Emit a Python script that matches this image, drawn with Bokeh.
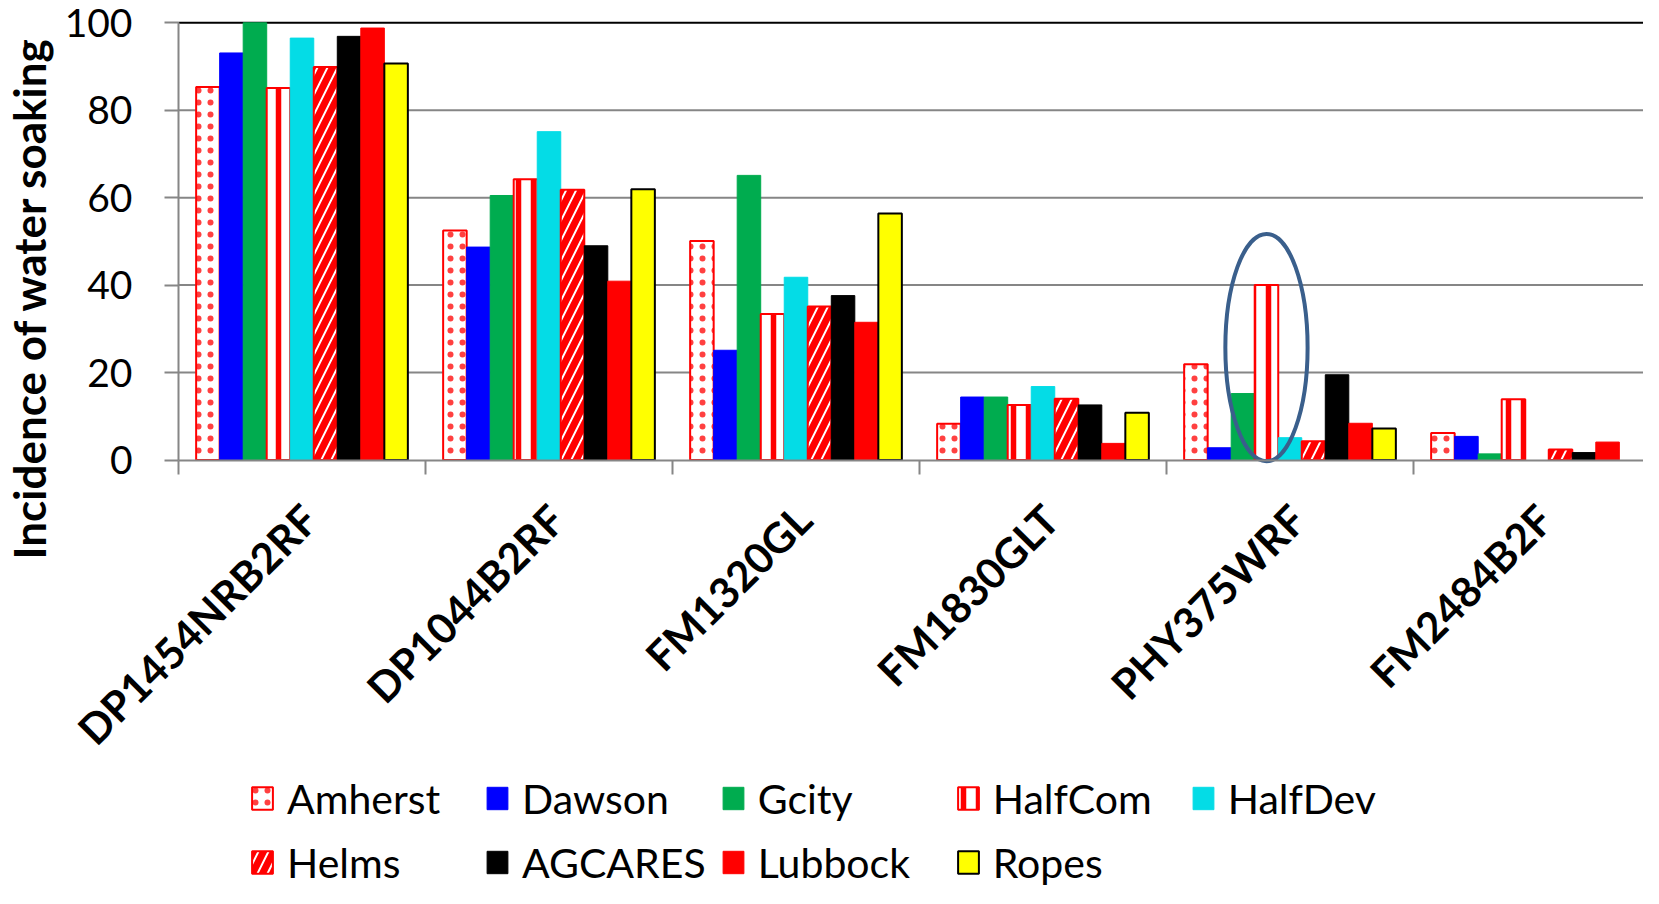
import math
from bokeh.plotting import figure
from bokeh.models import (ColumnDataSource, FixedTicker, Legend, LegendItem, Label, Range1d)
from bokeh.embed import file_html
from bokeh.resources import INLINE

# ---------------- data ----------------
categories = ["DP1454NRB2RF", "DP1044B2RF", "FM1320GL", "FM1830GLT", "PHY375WRF", "FM2484B2F"]
series = ["Amherst", "Dawson", "Gcity", "HalfCom", "HalfDev", "Helms", "AGCARES", "Lubbock", "Ropes"]
amherst = [85.3, 52.5, 50.1, 8.3, 21.9, 6.2]
dawson = [93.1, 48.7, 25.1, 14.4, 2.8, 5.4]
gcity = [100.0, 60.5, 65.1, 14.4, 15.2, 1.4]
halfcom = [85.1, 64.2, 33.4, 12.6, 40.0, 13.9]
halfdev = [96.5, 75.1, 41.8, 16.8, 5.1, 0.0]
helms = [89.9, 61.8, 35.1, 14.0, 4.3, 2.4]
agcares = [96.9, 49.0, 37.6, 12.6, 19.5, 1.7]
lubbock = [98.8, 40.9, 31.5, 3.8, 8.4, 4.1]
ropes = [90.7, 61.9, 56.4, 10.8, 7.2, 0.0]
y_ticks = [0, 20, 40, 60, 80, 100]
highlight = ("PHY375WRF", "HalfCom")

values = [amherst, dawson, gcity, halfcom, halfdev, helms, agcares, lubbock, ropes]

# ---------------- styles ----------------
RED = "#FF0000"
styles = {
    "Amherst": dict(fill_color="white", line_color=RED, line_width=2, hatch_pattern=".",
                    hatch_color=RED, hatch_scale=12, hatch_weight=3, hatch_alpha=0.75),
    "Dawson": dict(fill_color="#0000FF", line_color="#0000FF", line_width=1),
    "Gcity": dict(fill_color="#00AC4F", line_color="#00AC4F", line_width=1),
    "HalfCom": dict(fill_color="white", line_color=RED, line_width=2, hatch_pattern="|",
                    hatch_color=RED, hatch_scale=15, hatch_weight=5.5),
    "HalfDev": dict(fill_color="#04DCE6", line_color="#04DCE6", line_width=1),
    "Helms": dict(fill_color="white", line_color=RED, line_width=2, hatch_pattern="/",
                  hatch_color=RED, hatch_scale=20, hatch_weight=7),
    "AGCARES": dict(fill_color="#000000", line_color="#000000", line_width=1),
    "Lubbock": dict(fill_color=RED, line_color=RED, line_width=1),
    "Ropes": dict(fill_color="#FFFF00", line_color="#000000", line_width=2),
}

FONT = "Lato"
GRID = "#868686"
n_cat = len(categories)
n_series = len(series)
bar_w = 1.0 / 10.5

# layout (pixels): the frame covers the whole canvas
W, H = 1643, 888
AX_X = 178.0      # pixel of x = 0 (value axis)
CAT_W = 247.0     # pixels per category
Y0 = 459.5        # pixel of y = 0 (category axis)
PXY = 4.372       # pixels per unit

p = figure(width=W, height=H, title=None,
           x_range=Range1d(-AX_X / CAT_W, (W - AX_X) / CAT_W),
           y_range=Range1d(-(H - Y0) / PXY, Y0 / PXY),
           output_backend="svg", toolbar_location=None,
           min_border=0, min_border_left=0, min_border_right=0,
           min_border_top=0, min_border_bottom=0)
p.outline_line_color = None
p.background_fill_color = "white"
p.border_fill_color = "white"
p.xgrid.visible = False
p.ygrid.visible = False

# grid lines (gray) and top/right plot-area border (black)
inner = [t for t in y_ticks if 0 < t < y_ticks[-1]]
p.segment(x0=[0] * len(inner), x1=[n_cat] * len(inner), y0=inner, y1=inner,
          line_color=GRID, line_width=2)
p.segment(x0=[0, n_cat], x1=[n_cat, n_cat], y0=[y_ticks[-1], 0], y1=[y_ticks[-1], y_ticks[-1]],
          line_color="black", line_width=2)

items = []
for si, name in enumerate(series):
    xs, tops = [], []
    for ci, v in enumerate(values[si]):
        if v > 0:
            xs.append(ci + 0.5 + (si - (n_series - 1) / 2) * bar_w)
            tops.append(v)
    src = ColumnDataSource(dict(x=xs, top=tops))
    r = p.vbar(x="x", top="top", bottom=0, width=bar_w, source=src, **styles[name])
    items.append(LegendItem(label=name, renderers=[r]))

# highlight ellipse around the chosen bar
ci_h = categories.index(highlight[0])
si_h = series.index(highlight[1])
v_h = values[si_h][ci_h]
p.ellipse(x=[ci_h + 0.5 + (si_h - (n_series - 1) / 2) * bar_w], y=[v_h * 0.643],
          width=[0.333], height=[v_h * 1.30], fill_alpha=0,
          line_color="#3A5F8C", line_width=4)

# y axis (drawn at x = 0 inside the frame)
yax = p.yaxis[0]
yax.fixed_location = 0
yax.bounds = (y_ticks[0], y_ticks[-1])
yax.ticker = FixedTicker(ticks=y_ticks)
yax.major_tick_out = 14
yax.major_tick_in = 0
yax.minor_tick_out = 0
yax.minor_tick_in = 0
yax.axis_line_color = GRID
yax.axis_line_width = 2
yax.major_tick_line_color = GRID
yax.major_tick_line_width = 2
yax.major_label_text_font = FONT
yax.major_label_text_font_size = "39px"
yax.major_label_text_color = "black"
yax.major_label_standoff = 32

# x axis (drawn at y = 0)
label_shift = 1 / 32
xax = p.xaxis[0]
xax.fixed_location = 0
xax.bounds = (0, n_cat)
xax.ticker = FixedTicker(ticks=[i + 0.5 + label_shift for i in range(n_cat)],
                         minor_ticks=list(range(n_cat + 1)))
xax.major_label_overrides = {i + 0.5 + label_shift: c for i, c in enumerate(categories)}
xax.major_tick_out = 0
xax.major_tick_in = 0
xax.minor_tick_out = 14
xax.minor_tick_in = 0
xax.minor_tick_line_color = GRID
xax.minor_tick_line_width = 2
xax.axis_line_color = GRID
xax.axis_line_width = 2
xax.major_label_orientation = math.pi / 4
xax.major_label_text_font = FONT
xax.major_label_text_font_style = "bold"
xax.major_label_text_font_size = "42px"
xax.major_label_text_color = "black"
xax.major_label_standoff = 38

# value-axis title
p.add_layout(Label(x=(28.0 - AX_X) / CAT_W, y=(Y0 - 559) / PXY,
                   text="Incidence of water soaking", angle=math.pi / 2,
                   text_align="left", text_baseline="alphabetic",
                   text_font=FONT, text_font_style="bold", text_font_size="44px",
                   text_color="black"))

legend = Legend(items=items, orientation="horizontal", ncols=5,
                location=(249, 1), margin=0, padding=0,
                border_line_alpha=0, background_fill_alpha=0,
                label_text_font=FONT, label_text_font_size="41px", label_text_color="black",
                label_text_baseline="alphabetic",
                glyph_width=26, glyph_height=28, label_standoff=12,
                label_width=183, label_height=50, spacing=14)
p.add_layout(legend, "center")

open("out.html", "w").write(file_html(p, INLINE))
